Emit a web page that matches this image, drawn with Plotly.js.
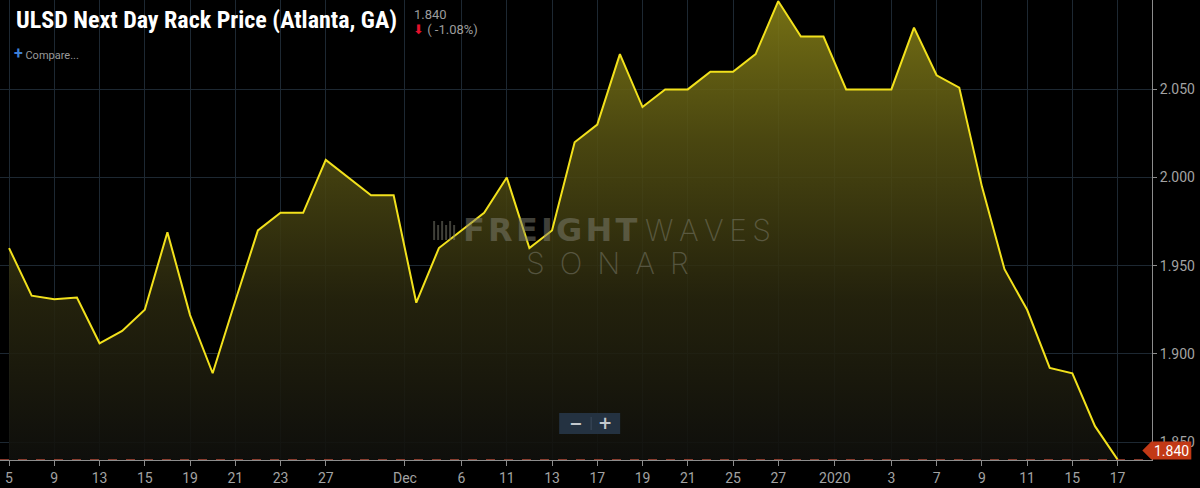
<!DOCTYPE html>
<html>
<head>
<meta charset="utf-8">
<script src="https://cdn.plot.ly/plotly-3.0.1.min.js"></script>
<style>
html,body{margin:0;padding:0;background:#000;}
#chart{width:1200px;height:488px;}
</style>
</head>
<body>
<div id="chart"></div>
<script>
// ---- data ----
const prices = [1.960, 1.933, 1.931, 1.932, 1.906, 1.913, 1.925, 1.969, 1.922, 1.889,
                1.930, 1.970, 1.980, 1.980, 2.010, 2.000, 1.990, 1.990, 1.929, 1.960,
                1.970, 1.980, 2.000, 1.960, 1.970, 2.020, 2.030, 2.070, 2.040, 2.050,
                2.050, 2.060, 2.060, 2.070, 2.100, 2.080, 2.080, 2.050, 2.050, 2.050,
                2.085, 2.058, 2.051, 1.995, 1.948, 1.925, 1.892, 1.889, 1.859, 1.840];
const pointIndex = prices.map((_, i) => i);
const tickPositions = [0, 2, 4, 6, 8, 10, 12, 14, 17.5, 20, 22, 24, 26, 28, 30, 32, 34, 36.5, 39, 41, 43, 45, 47, 49];
const tickLabels = ['5', '9', '13', '15', '19', '21', '23', '27', 'Dec', '6', '11', '13', '17', '19', '21', '25', '27', '2020', '3', '7', '9', '11', '15', '17'];
const yTicks = [1.85, 1.90, 1.95, 2.00, 2.05];
const lastPrice = 1.840;
const changeText = '( -1.08%)';
const titleText = 'ULSD Next Day Rack Price (Atlanta, GA)';

// ---- layout helpers (pixel -> paper) ----
const W = 1200, H = 488;
const plotR = 1151.7, plotB = 460;
const px = x => x / plotR;
const py = y => (plotB - y) / plotB;
const spaced = (s, sp) => s.split('').join(sp);

const trace = {
  x: pointIndex,
  y: prices,
  type: 'scatter',
  mode: 'lines',
  line: {color: '#f2e11c', width: 2},
  fill: 'tozeroy',
  fillgradient: {
    type: 'vertical',
    start: 1.84,
    stop: 2.10,
    colorscale: [
      [0, 'rgba(16,16,13,0.9)'],
      [0.35, 'rgba(40,38,14,0.88)'],
      [0.7, 'rgba(84,80,18,0.88)'],
      [1, 'rgba(130,124,22,0.9)']
    ]
  },
  hoverinfo: 'skip'
};

const gridC = '#1d2832';
const axisFont = {family: 'Roboto, sans-serif', size: 14, color: '#a3a3a3'};
const wmColor = 'rgba(128,128,114,0.5)';

const shapes = [
  // last price dashed line
  {type: 'line', xref: 'paper', yref: 'y', x0: 0, x1: 1, y0: lastPrice, y1: lastPrice,
   line: {color: 'rgba(205,90,70,0.75)', width: 1, dash: 'dash'}, layer: 'above'},
  // zoom button box
  {type: 'rect', xref: 'paper', yref: 'paper', x0: px(559), x1: px(620), y0: py(434), y1: py(413),
   fillcolor: '#243241', line: {width: 0}, layer: 'above'},
  {type: 'line', xref: 'paper', yref: 'paper', x0: px(591), x1: px(591), y0: py(430), y1: py(417),
   line: {color: '#3b4a5a', width: 1}, layer: 'above'},
  // price tag
  {type: 'path', xref: 'paper', yref: 'paper',
   path: `M ${px(1142)} ${py(450.5)} L ${px(1151)} ${py(441.5)} L ${px(1191)} ${py(441.5)} L ${px(1191)} ${py(459.5)} L ${px(1151)} ${py(459.5)} Z`,
   fillcolor: '#c23916', line: {width: 0}, layer: 'above'}
];
// small bar-logo of watermark
[434, 438, 442, 446, 450, 454].forEach((bx, k) => {
  shapes.push({type: 'line', xref: 'paper', yref: 'paper', x0: px(bx), x1: px(bx),
    y0: py(240), y1: py(k % 2 ? 225 : 221), line: {color: wmColor, width: 2}, layer: 'above'});
});

const annotations = [
  {text: '<b>' + titleText + '</b>', xref: 'paper', yref: 'paper', x: px(14), y: py(20),
   xanchor: 'left', yanchor: 'middle', showarrow: false,
   font: {family: 'Liberation Sans Narrow, Roboto Condensed, Roboto, sans-serif', size: 24, color: '#ffffff'}},
  {text: lastPrice.toFixed(3), xref: 'paper', yref: 'paper', x: px(412), y: py(14),
   xanchor: 'left', yanchor: 'middle', showarrow: false,
   font: {family: 'Roboto, sans-serif', size: 13, color: '#9c9c9c'}},
  {text: '<span style="color:#e3122c">⬇</span> ' + changeText, xref: 'paper', yref: 'paper', x: px(411), y: py(30),
   xanchor: 'left', yanchor: 'middle', showarrow: false,
   font: {family: 'Roboto, DejaVu Sans, sans-serif', size: 13, color: '#9c9c9c'}},
  {text: '<span style="color:#3d7fd6;font-size:16px"><b>+</b></span> Compare...', xref: 'paper', yref: 'paper', x: px(12), y: py(54),
   xanchor: 'left', yanchor: 'middle', showarrow: false,
   font: {family: 'Roboto, sans-serif', size: 11, color: '#9a9a9a'}},
  // watermark
  {text: '<b>' + spaced('FREIGHT', '\u200a') + '</b>', xref: 'paper', yref: 'paper', x: px(461), y: py(230),
   xanchor: 'left', yanchor: 'middle', showarrow: false,
   font: {family: 'DejaVu Sans, sans-serif', size: 32, color: wmColor}},
  {text: spaced('WAVES', '\u2009'), xref: 'paper', yref: 'paper', x: px(708), y: py(230),
   xanchor: 'center', yanchor: 'middle', showarrow: false,
   font: {family: 'Inter, sans-serif', size: 30, weight: 200, color: wmColor}},
  {text: spaced('SONAR', '\u2002'), xref: 'paper', yref: 'paper', x: px(607), y: py(263),
   xanchor: 'center', yanchor: 'middle', showarrow: false,
   font: {family: 'Inter, sans-serif', size: 30, weight: 200, color: wmColor}},
  // zoom buttons
  {text: '<b>−</b>', xref: 'paper', yref: 'paper', x: px(575), y: py(423),
   xanchor: 'center', yanchor: 'middle', showarrow: false,
   font: {family: 'DejaVu Sans, sans-serif', size: 16, color: '#c4c9ce'}},
  {text: '<b>+</b>', xref: 'paper', yref: 'paper', x: px(605), y: py(423),
   xanchor: 'center', yanchor: 'middle', showarrow: false,
   font: {family: 'DejaVu Sans, sans-serif', size: 17, color: '#c4c9ce'}},
  // price tag text
  {text: lastPrice.toFixed(3), xref: 'paper', yref: 'paper', x: px(1171), y: py(451),
   xanchor: 'center', yanchor: 'middle', showarrow: false,
   font: {family: 'Roboto, sans-serif', size: 14, color: '#ffffff'}}
];

const layout = {
  width: W, height: H,
  margin: {l: 0, r: W - plotR, t: 0, b: H - plotB},
  paper_bgcolor: '#000000',
  plot_bgcolor: '#000000',
  showlegend: false,
  xaxis: {
    range: [-0.4, 50.52],
    tickmode: 'array', tickvals: tickPositions, ticktext: tickLabels,
    showgrid: true, gridcolor: gridC, gridwidth: 1,
    zeroline: false, showline: true, linecolor: '#8c8c8c', linewidth: 1,
    ticks: 'outside', ticklen: 5, tickcolor: '#8c8c8c',
    tickfont: axisFont, fixedrange: true
  },
  yaxis: {
    side: 'right',
    range: [1.8398, 2.1007],
    tickmode: 'array', tickvals: yTicks, ticktext: yTicks.map(v => v.toFixed(3)),
    showgrid: true, gridcolor: gridC, gridwidth: 1,
    zeroline: false, showline: true, linecolor: '#8c8c8c', linewidth: 1,
    ticks: 'outside', ticklen: 4, tickcolor: '#8c8c8c',
    tickfont: axisFont, fixedrange: true
  },
  shapes: shapes,
  annotations: annotations
};

Plotly.newPlot('chart', [trace], layout, {displayModeBar: false, staticPlot: true});
</script>
</body>
</html>
